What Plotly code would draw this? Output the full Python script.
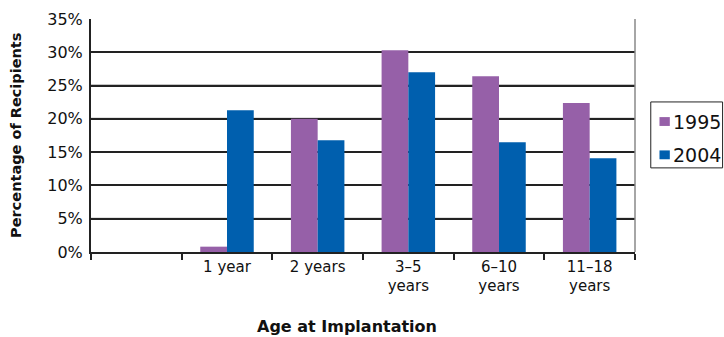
import plotly.graph_objects as go

categories = [" ", "1 year", "2 years", "3–5<br>years", "6–10<br>years", "11–18<br>years"]
series_names = ["1995", "2004"]
values_1995 = [None, 0.8, 20.0, 30.3, 26.4, 22.4]
values_2004 = [None, 21.3, 16.8, 27.0, 16.5, 14.1]
y_ticks = [0, 5, 10, 15, 20, 25, 30, 35]
light_grid_ticks = [5, 20, 25]

FONT = "'DejaVu Sans', sans-serif"
COLORS = ["#9660A8", "#005FAE"]

fig = go.Figure()
for name, vals, col in zip(series_names, [values_1995, values_2004], COLORS):
    fig.add_trace(go.Bar(name=name, x=categories, y=vals, marker_color=col,
                         marker_line_width=0, showlegend=False))

fig.update_layout(
    width=724, height=337,
    margin=dict(l=91, r=89, t=19, b=85, autoexpand=False),
    paper_bgcolor="white", plot_bgcolor="white",
    barmode="group", bargap=0.41, bargroupgap=0,
    font=dict(family=FONT, size=15, color="#111"),
    xaxis=dict(type="category", categoryorder="array", categoryarray=categories,
               range=[-0.5, 5.5], tickson="boundaries", ticks="outside",
               ticklen=6, tickcolor="#222", tickwidth=1.5,
               showline=True, linecolor="#222", linewidth=1.5, automargin=False,
               showgrid=False, tickfont=dict(family=FONT, size=15, color="#111")),
    yaxis=dict(range=[0, 35], tickvals=y_ticks, ticktext=[f"{v}%" for v in y_ticks],
               showgrid=True, gridcolor="#222", gridwidth=1.5,
               showline=True, linecolor="#222", linewidth=2, automargin=False,
               ticks="", ticklabelstandoff=3,
               tickfont=dict(family=FONT, size=16, color="#111"),
               zeroline=False),
)

# lighter grid lines as in the reference (drawn over the dark grid, under the bars)
for v in light_grid_ticks:
    fig.add_shape(type="line", xref="paper", yref="y", x0=0, x1=1, y0=v, y1=v,
                  line=dict(color="#8a8a8a", width=2), layer="between")

# right border of plot area
fig.add_shape(type="line", xref="paper", yref="paper", x0=1, x1=1, y0=0, y1=1,
              line=dict(color="#888", width=1.5))

# legend box (drawn manually to match compact reference legend)
fig.add_shape(type="rect", xref="paper", yref="paper", x0=1.029, x1=1.161,
              y0=0.361, y1=0.644, line=dict(color="#222", width=1), fillcolor="white")
for i, (name, col) in enumerate(zip(series_names, COLORS)):
    yc = 0.560 - i * 0.143
    fig.add_shape(type="rect", xref="paper", yref="paper", x0=1.045, x1=1.064,
                  y0=yc - 0.019, y1=yc + 0.019, line=dict(width=0), fillcolor=col)
    fig.add_annotation(text=name, xref="paper", yref="paper", x=1.066, y=yc,
                       xanchor="left", yanchor="middle", showarrow=False,
                       font=dict(family=FONT, size=19, color="#111"))

fig.add_annotation(text="<b>Percentage of Recipients</b>", xref="paper", yref="paper",
                   x=-0.139, y=0.5, textangle=-90, showarrow=False,
                   font=dict(family=FONT, size=14.5, color="#111"),
                   xanchor="center", yanchor="middle")
fig.add_annotation(text="<b>Age at Implantation</b>", xref="paper", yref="paper",
                   x=0.471, y=-0.318, showarrow=False,
                   font=dict(family=FONT, size=16, color="#111"),
                   xanchor="center", yanchor="middle")

fig.write_html("out.html", config={"displayModeBar": False},
               post_script="document.body.style.margin='0';"
                           "document.body.style.overflow='hidden';")
